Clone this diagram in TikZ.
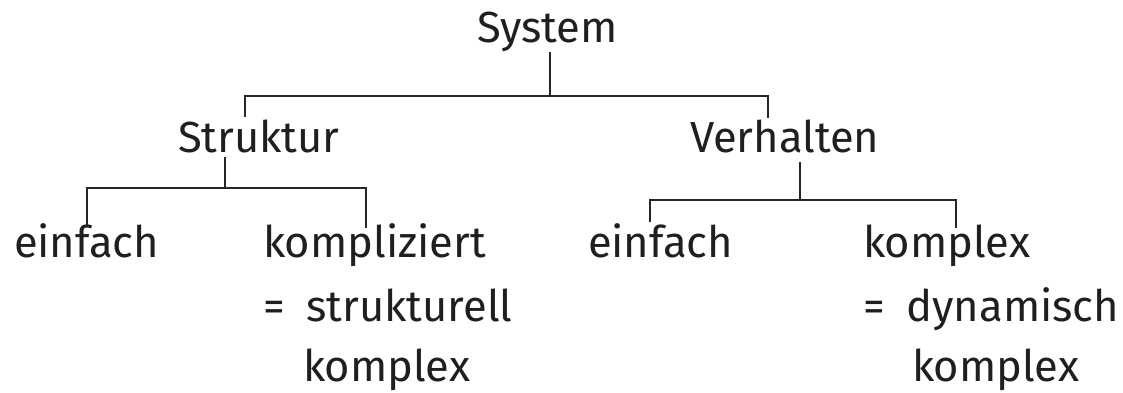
\documentclass[tikz,border=0pt]{standalone}
\usepackage{fontspec}
\setmainfont{Fira Sans}
\begin{document}
\begin{tikzpicture}[x=1pt,y=1pt,
  lbl/.style={anchor=base west,inner sep=0pt,outer sep=0pt,text=black!88,font=\fontsize{43.5}{43.5}\selectfont},
  conn/.style={draw=black!85,line width=1.8pt}]
\useasboundingbox (0,0) rectangle (1123,-392);
% texts
\node[lbl] (sys) at (477,-42) {System};
\node[lbl] (str) at (178,-152) {Struktur};
\node[lbl] (ver) at (690,-152) {Verhalten};
\node[lbl] (e1) at (14,-257) {einfach};
\node[lbl] (ko) at (263,-257) {kompliziert};
\node[lbl] (ko2) at (263,-321) {=\hspace{0.5em}strukturell};
\node[lbl] (ko3) at (303,-381) {komplex};
\node[lbl] (e2) at (588,-257) {einfach};
\node[lbl] (kx) at (863,-257) {komplex};
\node[lbl] (kx2) at (863,-321) {=\hspace{0.5em}dynamisch};
\node[lbl] (kx3) at (912,-381) {komplex};
% junction coordinates
\coordinate (sysB) at (550,-52);
\coordinate (bar1) at (550,-96);
\coordinate (strT) at (245,-117);
\coordinate (verT) at (768,-118);
\coordinate (strB) at (225,-157);
\coordinate (bar2) at (225,-188);
\coordinate (e1T) at (87,-226);
\coordinate (koT) at (366,-228);
\coordinate (verB) at (800,-162);
\coordinate (bar3) at (800,-200);
\coordinate (e2T) at (650,-222);
\coordinate (kxT) at (956,-228);
% connectors
\draw[conn] (sysB) -- (bar1);
\draw[conn] (strT) |- (bar1) -| (verT);
\draw[conn] (strB) -- (bar2);
\draw[conn] (e1T) |- (bar2) -| (koT);
\draw[conn] (verB) -- (bar3);
\draw[conn] (e2T) |- (bar3) -| (kxT);
\end{tikzpicture}
\end{document}
